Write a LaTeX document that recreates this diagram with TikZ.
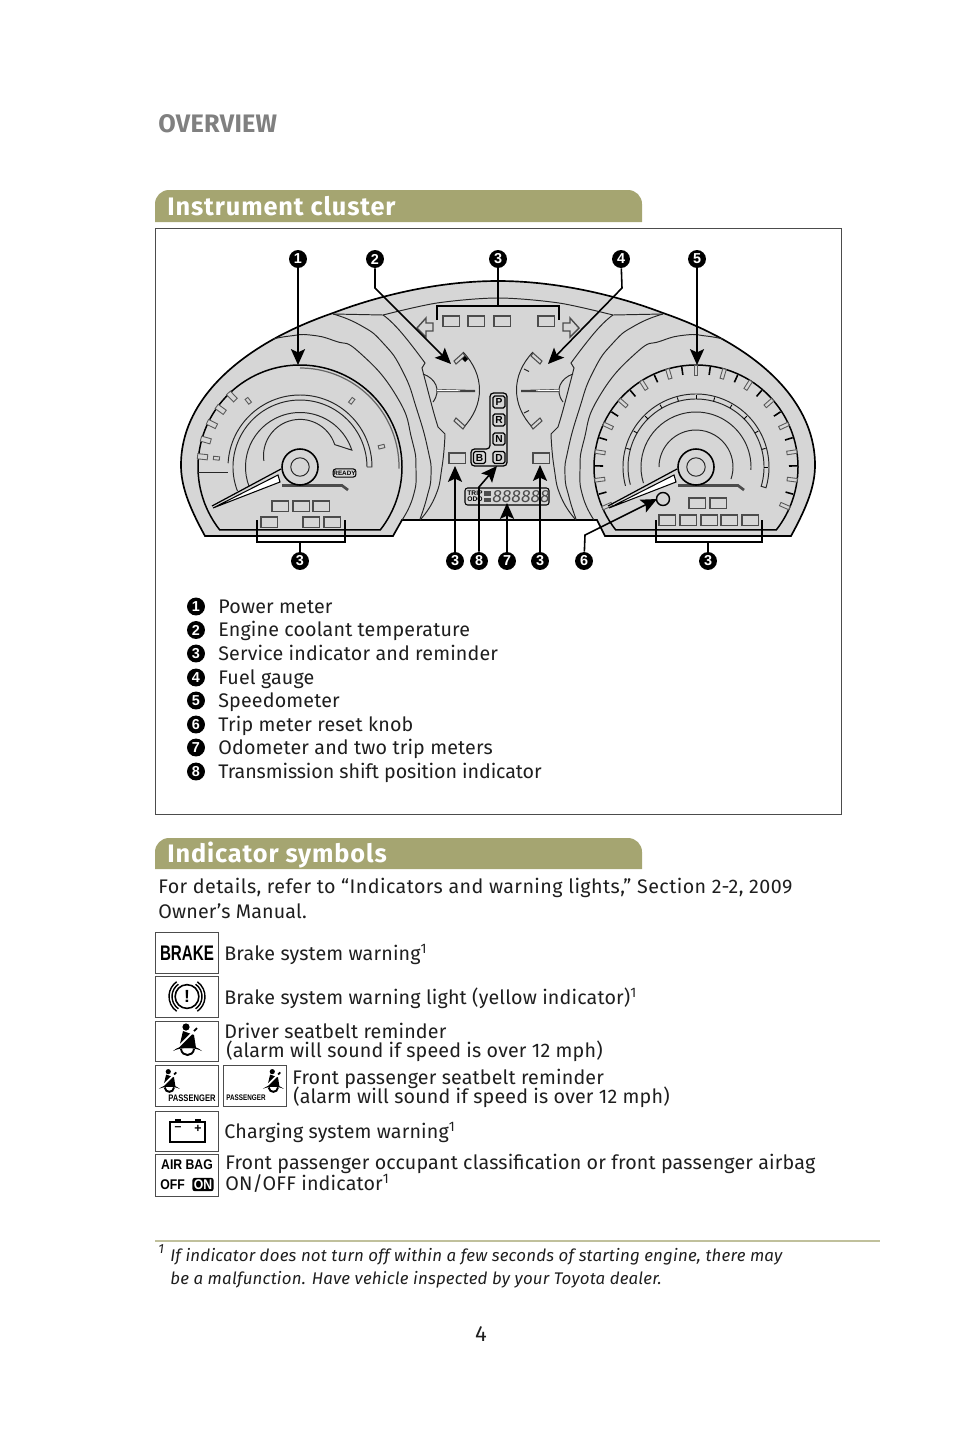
\documentclass[tikz,border=0pt]{standalone}
\usepackage{fontspec}
\setmainfont{Fira Sans}
\newfontfamily\lampfont{Liberation Sans}
\usepackage{xcolor}
\usetikzlibrary{arrows.meta, calc}
\definecolor{bandolive}{HTML}{A5A571}
\definecolor{paneltone}{HTML}{D6D6D6}
\definecolor{bodytext}{HTML}{1E1E1E}

\tikzset{
  beltman/.pic={
    \fill (-1,-13) circle (3.6);
    \fill (-4,-9) -- (7,-5) -- (9,8) -- (-8,8) -- cycle;
    \draw[white, line width=1pt] (7,-9) -- (-9,7);
    \draw[line width=1pt] (7,-9) -- (10,-12);
    \fill (-14,11) .. controls (-6,4) and (7,4) .. (15,11)
      .. controls (7,7) and (-6,7) .. cycle;
    \draw[line width=1.1pt] (-6,9) .. controls (-5,17) and (6,17) .. (7,9);
  }
}

\begin{document}
\begin{tikzpicture}[
  x=0.02cm, y=-0.02cm,
  txt/.style={anchor=base west, inner sep=0pt, text=bodytext,
              font=\fontsize{11.2}{11.2}\selectfont\addfontfeatures{LetterSpace=0.8}},
  head/.style={anchor=base west, inner sep=0pt, text=white,
               font=\fontsize{14.4}{14.4}\bfseries\selectfont\addfontfeatures{LetterSpace=3.5}},
  note/.style={anchor=base west, inner sep=0pt, text=bodytext,
               font=\fontsize{9.6}{9.6}\itshape\selectfont\addfontfeatures{LetterSpace=1.1}},
  num/.style={circle, fill=black, text=white, inner sep=0pt, minimum size=10.2pt,
              font=\lampfont\bfseries\fontsize{8.2}{8.2}\selectfont},
  body/.style={draw=black, fill=paneltone, line width=0.95pt},
  thin/.style={draw=black!85, line width=0.55pt},
  dial/.style={draw=black, line width=0.85pt},
  lamp/.style={draw=black!70, line width=0.6pt},
  tickbox/.style={draw=black!65, fill=paneltone, line width=0.5pt},
  arr/.style={-{Stealth[length=9pt,width=8pt,inset=1.8pt]}, line width=0.9pt},
  brk/.style={draw=black, line width=0.9pt},
  iconbox/.style={draw=black!70, fill=white, line width=0.55pt},
  shiftkey/.style={draw=black, rounded corners=1pt, line width=0.7pt, inner sep=0pt,
                   minimum size=6.8pt, font=\lampfont\bfseries\fontsize{5.8}{5.8}\selectfont},
  lampfnt/.style={font=\lampfont\bfseries\fontsize{#1}{#1}\selectfont, inner sep=0pt}
]
\useasboundingbox (0,0) rectangle (960,1440);

% Page title and bands
\node[anchor=base west, inner sep=0pt, text=black!50,
      font=\fontsize{14.4}{14.4}\bfseries\selectfont\addfontfeatures{LetterSpace=1}] (title) at (158,132) {OVERVIEW};
\foreach \y/\ye in {190/222,838/869}{
  \fill[bandolive] (155,\ye) -- (155,\y+14) arc[start angle=180, end angle=270, radius=14]
    -- (628,\y) arc[start angle=270, end angle=360, radius=14] -- (642,\ye) -- cycle;
}
\node[head] (hcluster) at (167,215) {Instrument cluster};
\node[head] (hsymbols) at (167,862) {Indicator symbols};
\draw[black!70, line width=0.55pt] (155.5,228.5) rectangle (841.5,814.5);

% Cluster body
\draw[body] (205,536) .. controls (188,505) and (181,485) .. (181,465)
  .. controls (181,400) and (240,345) .. (333,313)
  .. controls (380,295) and (440,281) .. (498,281)
  .. controls (556,281) and (616,295) .. (663,313)
  .. controls (756,345) and (815,400) .. (815,465)
  .. controls (815,485) and (808,505) .. (791,536)
  -- (605,536) -- (597,520) -- (402,520) -- (393,536) -- cycle;
\draw[thin] plot[smooth] coordinates {(383,315) (437,303) (498,298) (559,303) (613,315)};

% Panel edges and small gauges, left then mirrored
\foreach \ox/\sx in {0/1,996/-1}{
  \begin{scope}[shift={(\ox,0)}, xscale=\sx]
    \draw[thin] (333,314) -- (383,315);
    \draw[thin] plot[smooth, tension=0.9] coordinates {(383,315) (400,331) (425,363)}
      -- (422,368) -- plot[smooth] coordinates {(422,368) (433,410) (438,427)}
      -- (445,434) -- plot[smooth, tension=0.9] coordinates {(445,434) (442,467) (435,497) (420,520)};
    \draw[thin] plot[smooth, tension=0.9] coordinates {(333,314) (360,325) (383,343) (403,372)
      (417,410) (428,450) (431,475) (427,497) (420,519)};
    \draw[thin] plot[smooth, tension=0.9] coordinates {(273,339) (290,336) (310,335) (335,341)
      (360,353) (397,397) (412,440) (416,470) (413,497) (402,520)};
    \draw[thin] (463,352) .. controls (485,375) and (485,405) .. (463,428);
    \draw[thin] (423,374) .. controls (435,378) and (442,390) .. (433,402);
    \fill[black!75] (437,389) -- (475,390) -- (475,392) -- (437,392) -- cycle;
    \fill[white] (437,389.6) -- (460,390.3) -- (460,391) -- (437,391.2) -- cycle;
    \draw[lamp, fill=paneltone] (454,361) -- (463,353) -- (465,356) -- (456,364) -- cycle;
    \draw[lamp, fill=paneltone] (454,421) -- (463,429) -- (465,426) -- (456,418) -- cycle;
    \draw[lamp, line width=0.8pt, fill=paneltone] (417,328) -- (426,318) -- (426,323)
      -- (433,323) -- (433,331) -- (426,331) -- (426,337) -- cycle;
  \end{scope}
}
\fill (465,356) -- (468,359) -- (465,362) -- (462,359) -- cycle;
\draw[thin] (524,369) -- (529,371.5);
\draw[thin] (524,413) -- (529,410.5);

% Both dials
\foreach \hx in {300,696}{
  \draw[dial] (\hx,467) ++(142:102) arc[start angle=142, end angle=398, radius=102] -- cycle;
  \draw[brk, draw=black!70, line width=1.5pt] (\hx-18,485.5) -- (\hx+42,485.5) -- (\hx+48,490);
}
\draw[black!60, line width=0.7pt] (300,467) ++(270:99) arc[start angle=270, end angle=361, radius=99];
\draw[thin] (198,472) -- (228,472);
\draw[thin] (300,467) ++(183:72) arc[start angle=183, end angle=360, radius=72] -- ++(-5,0);
\draw[thin] (300,467) ++(159:67) arc[start angle=159, end angle=360, radius=67];
\draw[thin] (300,467) ++(159:54.5) arc[start angle=159, end angle=342, radius=54.5]
  -- ++(198:18) arc[start angle=342, end angle=172, radius=36.5];
\foreach \a in {186,232,308,346}{
  \draw[tickbox, shift={(300,467)}, rotate=-\a] (81,-1.7) rectangle (87,1.7);
}
\foreach \a in {186,196,206,216,226}{
  \draw[tickbox, shift={(300,467)}, rotate=-\a] (93,-2.6) rectangle (103,2.6);
}
\draw[thin] (696,467) ++(165:73) arc[start angle=165, end angle=376.5, radius=73]
  -- ++(196.5:5) arc[start angle=376.5, end angle=165, radius=68];
\draw[thin] (696,467) ++(163:55) arc[start angle=163, end angle=363, radius=55];
\draw[thin] (696,467) ++(180:37) arc[start angle=180, end angle=379, radius=37];
\foreach \a in {195,210,...,360}{
  \draw[black, line width=0.5pt, shift={(696,467)}, rotate=-\a] (68,0) -- (72,0);
}
\foreach \k in {-7,...,7}{
  \draw[tickbox, shift={(696,467)}, rotate=90-16.25*\k] (92,-1.8) rectangle (102,1.8);
}
\foreach \k in {-7,...,6}{
  \draw[black, line width=0.9pt, shift={(696,467)}, rotate=81.875-16.25*\k] (93,0) -- (101,0);
}

% Needles and hubs
\foreach \hx in {300,696}{
  \draw[black, line width=0.7pt] (\hx-88,506) -- (\hx-19,469);
  \draw[black, fill=white, line width=0.6pt] (\hx-87,508) -- (\hx-22,475) -- (\hx-20,482) -- cycle;
  \node[circle, draw=black, fill=paneltone, line width=0.9pt, minimum size=20.5pt,
        inner sep=0pt] (hub\hx) at (\hx,467) {};
  \node[circle, thin, minimum size=10.5pt, inner sep=0pt] (cap\hx) at (\hx,467) {};
}
\node[circle, draw=black, fill=paneltone, line width=0.8pt, minimum size=7.4pt,
      inner sep=0pt] (knob) at (663,499) {};

% Warning lamps
\foreach \x/\y in {272/501,293/501,313/501,261/517,303/517,324/517,
                   689/498,710/498,659/515,680/515,701/515,721/515,742/515,
                   443/316,468/316,494/316,538/316,449/453,533/453}{
  \draw[lamp] (\x,\y) rectangle ++(16.5,10.5);
}
\node[draw=black, rounded corners=1.5pt, line width=0.6pt, lampfnt=3.6,
      minimum width=13pt, minimum height=4.6pt] (ready) at (344.5,473) {READY};

% Shift indicator and display
\draw[draw=black, line width=0.7pt, rounded corners=2pt] (490,393) -- (507,393) -- (507,466)
  -- (471,466) -- (471,449) -- (490,449) -- cycle;
\foreach \l/\x/\y in {P/499/402,R/499/420,N/499/439,D/499/457.5,B/479.5/457.5}{
  \node[shiftkey] (key\l) at (\x,\y) {\l};
}
\draw[draw=black, line width=0.6pt, rounded corners=1.5pt] (465,488) rectangle (549,505);
\node[lampfnt=3.8, align=left, anchor=west] (trip) at (467,496.5) {TRIP\\[-0.6pt]ODO};
\fill[black!70] (484,491) rectangle (491,495.5);
\fill[black!70] (484,497.5) rectangle (491,502);
\node[inner sep=0pt, text=black!70, font=\fontsize{10}{10}\itshape\selectfont] (digits)
  at (521,496.5) {888888};

% Callouts
\foreach \n/\lab/\x/\y in {a/1/298/259, b/2/375/259, c/3/498/259, d/4/621/259, e/5/697/259,
                           f/3/300/561, g/3/455/561, h/8/479/561, i/7/507/561, j/3/540/561,
                           k/6/584/561, l/3/708/561}{
  \node[num] (n\n) at (\x,\y) {\lab};
}
\coordinate (ta) at (298,365);
\coordinate (tb) at (451,364);
\coordinate (bb) at (375,288);
\coordinate (td) at (548,364);
\coordinate (bd) at (622,288);
\coordinate (te) at (697,365);
\coordinate (tk) at (657,499);
\coordinate (bk) at (585,535);
\coordinate (tg) at (455,466);
\coordinate (th) at (497,466);
\coordinate (bh) at (479,487);
\coordinate (ti) at (507,503);
\coordinate (tj) at (540,465);
\draw[arr] (na) -- (ta);
\draw[arr] (nb) -- (bb) -- (tb);
\draw[arr] (nd) -- (bd) -- (td);
\draw[arr] (ne) -- (te);
\draw[arr] (nk) -- (bk) -- (tk);
\draw[arr] (ng) -- (tg);
\draw[arr] (nh) -- (bh) -- (th);
\draw[arr] (ni) -- (ti);
\draw[arr] (nj) -- (tj);

% Brackets
\draw[brk] (437,320) -- (437,306) -- (559,306) -- (559,320);
\coordinate (bc) at (498,306);
\draw[brk] (nc) -- (bc);
\draw[brk] (257,520) -- (257,542) -- (345,542) -- (345,520);
\coordinate (bf) at (300,542);
\draw[brk] (nf) -- (bf);
\draw[brk] (656,520) -- (656,542) -- (762,542) -- (762,520);
\coordinate (bl) at (708,542);
\draw[brk] (nl) -- (bl);

% Legend
\foreach \n/\y/\lab in {1/613/Power meter, 2/636.5/Engine coolant temperature,
    3/660/Service indicator and reminder, 4/684/Fuel gauge, 5/707/Speedometer,
    6/731/Trip meter reset knob, 7/754/Odometer and two trip meters,
    8/778/{\addfontfeatures{LetterSpace=-0.5}Transmission shift position indicator}}{
  \node[num] (m\n) at (196,\y-6.5) {\n};
  \node[txt] (t\n) at (218,\y) {\lab};
}

% Indicator texts
\node[txt] (s1) at (158,893) {\addfontfeatures{LetterSpace=2.2}For details, refer to “Indicators and warning lights,” Section 2-2, 2009};
\node[txt] (s2) at (158,918) {Owner’s Manual.};
\node[txt] (r1) at (224,960) {Brake system warning\textsuperscript{1}};
\node[txt] (r2) at (224,1004) {Brake system warning light (yellow indicator)\textsuperscript{1}};
\node[txt] (r3) at (224,1038) {Driver seatbelt reminder};
\node[txt] (r3b) at (226,1057) {(alarm will sound if speed is over 12 mph)};
\node[txt] (r4) at (292,1084) {Front passenger seatbelt reminder};
\node[txt] (r4b) at (293,1103) {(alarm will sound if speed is over 12 mph)};
\node[txt] (r5) at (224,1138) {Charging system warning\textsuperscript{1}};
\node[txt] (r6) at (225,1169) {Front passenger occupant classification or front passenger airbag};
\node[txt] (r6b) at (225,1190) {ON/OFF indicator\textsuperscript{1}};

% Icon boxes
\foreach \x/\y/\ye in {155.5/932.5/973, 155.5/976.5/1017, 155.5/1021/1061, 155.5/1065.5/1106,
                       223/1065.5/1106, 155.5/1111/1151, 155.5/1154.5/1196}{
  \draw[iconbox] (\x,\y) rectangle ({\x+63},\ye);
}
\node[lampfnt=12, xscale=0.72] (brake) at (187,953) {BRAKE};
\foreach \r in {15,18}{
  \draw[black, line width=0.8pt] (187,996.5) ++(125:\r) arc[start angle=125, end angle=235, radius=\r];
  \draw[black, line width=0.8pt] (187,996.5) ++(-55:\r) arc[start angle=-55, end angle=55, radius=\r];
}
\node[circle, draw=black, line width=0.9pt, minimum size=13.5pt, inner sep=0pt,
      lampfnt=10] (warn) at (187,996.5) {!};
\pic at (187,1040) {beltman};
\pic[scale=0.72] at (169,1081) {beltman};
\pic[scale=0.72] at (273,1081) {beltman};
\node[lampfnt=5.4, xscale=0.8] (pass1) at (192,1098.5) {PASSENGER};
\node[lampfnt=4.6, xscale=0.78] (pass2) at (246,1098) {PASSENGER};
\draw[black, line width=1pt] (170,1122) rectangle (205,1142);
\fill (175,1119) rectangle (181,1122);
\fill (195,1119) rectangle (201,1122);
\node[lampfnt=7] (minus) at (178,1129) {–};
\node[lampfnt=7] (plus) at (198,1129) {+};
\node[lampfnt=8, xscale=0.87] (airbag) at (187,1164.5) {AIR BAG};
\node[lampfnt=8, xscale=0.87, anchor=west] (off) at (160,1184.5) {OFF};
\node[fill=black, rounded corners=1.5pt, text=white, lampfnt=8, xscale=0.87, inner xsep=1pt, inner ysep=1pt] (on) at (203,1184.5) {ON};

% Footnote and page number
\draw[bandolive!70, line width=0.6pt] (155,1241) -- (880,1241);
\node[note] (f0) at (158,1253) {\fontsize{7.5}{7.5}\selectfont 1};
\node[note] (f1) at (170,1261) {If indicator does not turn off within a few seconds of starting engine, there may};
\node[note] (f2) at (170,1284) {be a malfunction. Have vehicle inspected by your Toyota dealer.};
\node[anchor=base, inner sep=0pt, text=bodytext, font=\fontsize{12.5}{12.5}\selectfont] (page) at (481,1341) {4};
\end{tikzpicture}
\end{document}
